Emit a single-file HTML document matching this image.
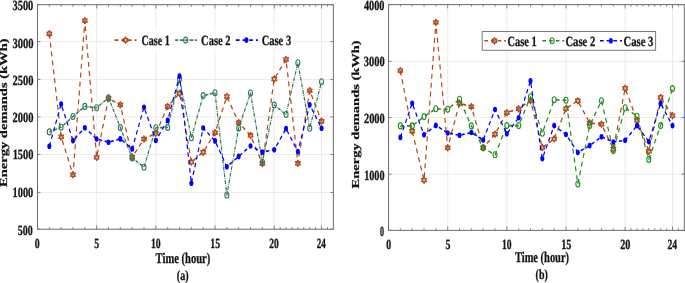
<!DOCTYPE html><html><head><meta charset="utf-8"><style>html,body{margin:0;padding:0;background:#fff;overflow:hidden}svg{display:block;will-change:transform}</style></head><body>
<svg width="685" height="283" viewBox="0 0 685 283" font-family='"Liberation Serif", serif' font-weight="bold" text-rendering="geometricPrecision">
<rect width="685" height="283" fill="#fff"/>
<line x1="96.66" y1="4.7" x2="96.66" y2="229.2" stroke="#ebebeb" stroke-width="1"/>
<line x1="155.84" y1="4.7" x2="155.84" y2="229.2" stroke="#ebebeb" stroke-width="1"/>
<line x1="215.02" y1="4.7" x2="215.02" y2="229.2" stroke="#ebebeb" stroke-width="1"/>
<line x1="274.20" y1="4.7" x2="274.20" y2="229.2" stroke="#ebebeb" stroke-width="1"/>
<line x1="321.54" y1="4.7" x2="321.54" y2="229.2" stroke="#ebebeb" stroke-width="1"/>
<line x1="37.48" y1="192.45" x2="333.38" y2="192.45" stroke="#ebebeb" stroke-width="1"/>
<line x1="37.48" y1="154.45" x2="333.38" y2="154.45" stroke="#ebebeb" stroke-width="1"/>
<line x1="37.48" y1="117.00" x2="333.38" y2="117.00" stroke="#ebebeb" stroke-width="1"/>
<line x1="37.48" y1="79.45" x2="333.38" y2="79.45" stroke="#ebebeb" stroke-width="1"/>
<line x1="37.48" y1="41.60" x2="333.38" y2="41.60" stroke="#ebebeb" stroke-width="1"/>
<path transform="scale(0.74,1)" d="M66.64,33.75 L82.64,136.80 L98.63,174.70 L114.63,20.60 L130.62,157.40 L146.62,98.50 L162.61,104.80 L178.61,157.00 L194.60,139.00 L210.59,133.40 L226.59,106.50 L242.58,93.30 L258.58,162.00 L274.57,152.30 L290.57,132.70 L306.56,96.50 L322.56,122.60 L338.55,135.40 L354.55,163.60 L370.54,79.00 L386.54,59.50 L402.53,163.30 L418.52,90.60 L434.52,121.20" fill="none" stroke="#b3481a" stroke-width="1.6" stroke-dasharray="5,4" stroke-linejoin="round"/>
<path d="M49.32,30.65 L48.53,32.20 L46.95,32.20 L47.74,33.75 L46.95,35.30 L48.53,35.30 L49.32,36.85 L50.10,35.30 L51.68,35.30 L50.89,33.75 L51.68,32.20 L50.10,32.20 Z" fill="#b3481a" fill-opacity="0.35" stroke="#b3481a" stroke-width="1.3" stroke-linejoin="round"/>
<path d="M61.15,133.70 L60.36,135.25 L58.79,135.25 L59.58,136.80 L58.79,138.35 L60.36,138.35 L61.15,139.90 L61.94,138.35 L63.51,138.35 L62.73,136.80 L63.51,135.25 L61.94,135.25 Z" fill="#b3481a" fill-opacity="0.35" stroke="#b3481a" stroke-width="1.3" stroke-linejoin="round"/>
<path d="M72.99,171.60 L72.20,173.15 L70.63,173.15 L71.41,174.70 L70.63,176.25 L72.20,176.25 L72.99,177.80 L73.78,176.25 L75.35,176.25 L74.56,174.70 L75.35,173.15 L73.78,173.15 Z" fill="#b3481a" fill-opacity="0.35" stroke="#b3481a" stroke-width="1.3" stroke-linejoin="round"/>
<path d="M84.82,17.50 L84.04,19.05 L82.46,19.05 L83.25,20.60 L82.46,22.15 L84.04,22.15 L84.82,23.70 L85.61,22.15 L87.19,22.15 L86.40,20.60 L87.19,19.05 L85.61,19.05 Z" fill="#b3481a" fill-opacity="0.35" stroke="#b3481a" stroke-width="1.3" stroke-linejoin="round"/>
<path d="M96.66,154.30 L95.87,155.85 L94.30,155.85 L95.08,157.40 L94.30,158.95 L95.87,158.95 L96.66,160.50 L97.45,158.95 L99.02,158.95 L98.24,157.40 L99.02,155.85 L97.45,155.85 Z" fill="#b3481a" fill-opacity="0.35" stroke="#b3481a" stroke-width="1.3" stroke-linejoin="round"/>
<path d="M108.50,95.40 L107.71,96.95 L106.13,96.95 L106.92,98.50 L106.13,100.05 L107.71,100.05 L108.50,101.60 L109.28,100.05 L110.86,100.05 L110.07,98.50 L110.86,96.95 L109.28,96.95 Z" fill="#b3481a" fill-opacity="0.35" stroke="#b3481a" stroke-width="1.3" stroke-linejoin="round"/>
<path d="M120.33,101.70 L119.54,103.25 L117.97,103.25 L118.76,104.80 L117.97,106.35 L119.54,106.35 L120.33,107.90 L121.12,106.35 L122.69,106.35 L121.91,104.80 L122.69,103.25 L121.12,103.25 Z" fill="#b3481a" fill-opacity="0.35" stroke="#b3481a" stroke-width="1.3" stroke-linejoin="round"/>
<path d="M132.17,153.90 L131.38,155.45 L129.81,155.45 L130.59,157.00 L129.81,158.55 L131.38,158.55 L132.17,160.10 L132.96,158.55 L134.53,158.55 L133.74,157.00 L134.53,155.45 L132.96,155.45 Z" fill="#b3481a" fill-opacity="0.35" stroke="#b3481a" stroke-width="1.3" stroke-linejoin="round"/>
<path d="M144.00,135.90 L143.22,137.45 L141.64,137.45 L142.43,139.00 L141.64,140.55 L143.22,140.55 L144.00,142.10 L144.79,140.55 L146.37,140.55 L145.58,139.00 L146.37,137.45 L144.79,137.45 Z" fill="#b3481a" fill-opacity="0.35" stroke="#b3481a" stroke-width="1.3" stroke-linejoin="round"/>
<path d="M155.84,130.30 L155.05,131.85 L153.48,131.85 L154.26,133.40 L153.48,134.95 L155.05,134.95 L155.84,136.50 L156.63,134.95 L158.20,134.95 L157.42,133.40 L158.20,131.85 L156.63,131.85 Z" fill="#b3481a" fill-opacity="0.35" stroke="#b3481a" stroke-width="1.3" stroke-linejoin="round"/>
<path d="M167.68,103.40 L166.89,104.95 L165.31,104.95 L166.10,106.50 L165.31,108.05 L166.89,108.05 L167.68,109.60 L168.46,108.05 L170.04,108.05 L169.25,106.50 L170.04,104.95 L168.46,104.95 Z" fill="#b3481a" fill-opacity="0.35" stroke="#b3481a" stroke-width="1.3" stroke-linejoin="round"/>
<path d="M179.51,90.20 L178.72,91.75 L177.15,91.75 L177.94,93.30 L177.15,94.85 L178.72,94.85 L179.51,96.40 L180.30,94.85 L181.87,94.85 L181.09,93.30 L181.87,91.75 L180.30,91.75 Z" fill="#b3481a" fill-opacity="0.35" stroke="#b3481a" stroke-width="1.3" stroke-linejoin="round"/>
<path d="M191.35,158.90 L190.56,160.45 L188.99,160.45 L189.77,162.00 L188.99,163.55 L190.56,163.55 L191.35,165.10 L192.14,163.55 L193.71,163.55 L192.92,162.00 L193.71,160.45 L192.14,160.45 Z" fill="#b3481a" fill-opacity="0.35" stroke="#b3481a" stroke-width="1.3" stroke-linejoin="round"/>
<path d="M203.18,149.20 L202.40,150.75 L200.82,150.75 L201.61,152.30 L200.82,153.85 L202.40,153.85 L203.18,155.40 L203.97,153.85 L205.55,153.85 L204.76,152.30 L205.55,150.75 L203.97,150.75 Z" fill="#b3481a" fill-opacity="0.35" stroke="#b3481a" stroke-width="1.3" stroke-linejoin="round"/>
<path d="M215.02,129.60 L214.23,131.15 L212.66,131.15 L213.44,132.70 L212.66,134.25 L214.23,134.25 L215.02,135.80 L215.81,134.25 L217.38,134.25 L216.60,132.70 L217.38,131.15 L215.81,131.15 Z" fill="#b3481a" fill-opacity="0.35" stroke="#b3481a" stroke-width="1.3" stroke-linejoin="round"/>
<path d="M226.86,93.40 L226.07,94.95 L224.49,94.95 L225.28,96.50 L224.49,98.05 L226.07,98.05 L226.86,99.60 L227.64,98.05 L229.22,98.05 L228.43,96.50 L229.22,94.95 L227.64,94.95 Z" fill="#b3481a" fill-opacity="0.35" stroke="#b3481a" stroke-width="1.3" stroke-linejoin="round"/>
<path d="M238.69,119.50 L237.90,121.05 L236.33,121.05 L237.12,122.60 L236.33,124.15 L237.90,124.15 L238.69,125.70 L239.48,124.15 L241.05,124.15 L240.27,122.60 L241.05,121.05 L239.48,121.05 Z" fill="#b3481a" fill-opacity="0.35" stroke="#b3481a" stroke-width="1.3" stroke-linejoin="round"/>
<path d="M250.53,132.30 L249.74,133.85 L248.17,133.85 L248.95,135.40 L248.17,136.95 L249.74,136.95 L250.53,138.50 L251.32,136.95 L252.89,136.95 L252.10,135.40 L252.89,133.85 L251.32,133.85 Z" fill="#b3481a" fill-opacity="0.35" stroke="#b3481a" stroke-width="1.3" stroke-linejoin="round"/>
<path d="M262.36,160.50 L261.58,162.05 L260.00,162.05 L260.79,163.60 L260.00,165.15 L261.58,165.15 L262.36,166.70 L263.15,165.15 L264.73,165.15 L263.94,163.60 L264.73,162.05 L263.15,162.05 Z" fill="#b3481a" fill-opacity="0.35" stroke="#b3481a" stroke-width="1.3" stroke-linejoin="round"/>
<path d="M274.20,75.90 L273.41,77.45 L271.84,77.45 L272.62,79.00 L271.84,80.55 L273.41,80.55 L274.20,82.10 L274.99,80.55 L276.56,80.55 L275.78,79.00 L276.56,77.45 L274.99,77.45 Z" fill="#b3481a" fill-opacity="0.35" stroke="#b3481a" stroke-width="1.3" stroke-linejoin="round"/>
<path d="M286.04,56.40 L285.25,57.95 L283.67,57.95 L284.46,59.50 L283.67,61.05 L285.25,61.05 L286.04,62.60 L286.82,61.05 L288.40,61.05 L287.61,59.50 L288.40,57.95 L286.82,57.95 Z" fill="#b3481a" fill-opacity="0.35" stroke="#b3481a" stroke-width="1.3" stroke-linejoin="round"/>
<path d="M297.87,160.20 L297.08,161.75 L295.51,161.75 L296.30,163.30 L295.51,164.85 L297.08,164.85 L297.87,166.40 L298.66,164.85 L300.23,164.85 L299.45,163.30 L300.23,161.75 L298.66,161.75 Z" fill="#b3481a" fill-opacity="0.35" stroke="#b3481a" stroke-width="1.3" stroke-linejoin="round"/>
<path d="M309.71,87.50 L308.92,89.05 L307.35,89.05 L308.13,90.60 L307.35,92.15 L308.92,92.15 L309.71,93.70 L310.50,92.15 L312.07,92.15 L311.28,90.60 L312.07,89.05 L310.50,89.05 Z" fill="#b3481a" fill-opacity="0.35" stroke="#b3481a" stroke-width="1.3" stroke-linejoin="round"/>
<path d="M321.54,118.10 L320.76,119.65 L319.18,119.65 L319.97,121.20 L319.18,122.75 L320.76,122.75 L321.54,124.30 L322.33,122.75 L323.91,122.75 L323.12,121.20 L323.91,119.65 L322.33,119.65 Z" fill="#b3481a" fill-opacity="0.35" stroke="#b3481a" stroke-width="1.3" stroke-linejoin="round"/>
<path transform="scale(0.74,1)" d="M66.64,131.90 L82.64,127.30 L98.63,116.50 L114.63,106.40 L130.62,107.70 L146.62,97.80 L162.61,127.60 L178.61,158.00 L194.60,167.20 L210.59,127.80 L226.59,127.40 L242.58,79.00 L258.58,137.70 L274.57,95.60 L290.57,92.70 L306.56,195.00 L322.56,127.90 L338.55,93.00 L354.55,162.00 L370.54,105.10 L386.54,114.50 L402.53,62.70 L418.52,128.30 L434.52,81.80" fill="none" stroke="#2f7a58" stroke-width="1.6" stroke-dasharray="3.8,1.1,0.8,1.1" stroke-linejoin="round"/>
<ellipse cx="49.32" cy="131.90" rx="2.0" ry="3.0" fill="none" stroke="#2f7a58" stroke-width="1.1"/>
<ellipse cx="61.15" cy="127.30" rx="2.0" ry="3.0" fill="none" stroke="#2f7a58" stroke-width="1.1"/>
<ellipse cx="72.99" cy="116.50" rx="2.0" ry="3.0" fill="none" stroke="#2f7a58" stroke-width="1.1"/>
<ellipse cx="84.82" cy="106.40" rx="2.0" ry="3.0" fill="none" stroke="#2f7a58" stroke-width="1.1"/>
<ellipse cx="96.66" cy="107.70" rx="2.0" ry="3.0" fill="none" stroke="#2f7a58" stroke-width="1.1"/>
<ellipse cx="108.50" cy="97.80" rx="2.0" ry="3.0" fill="none" stroke="#2f7a58" stroke-width="1.1"/>
<ellipse cx="120.33" cy="127.60" rx="2.0" ry="3.0" fill="none" stroke="#2f7a58" stroke-width="1.1"/>
<ellipse cx="132.17" cy="158.00" rx="2.0" ry="3.0" fill="none" stroke="#2f7a58" stroke-width="1.1"/>
<ellipse cx="144.00" cy="167.20" rx="2.0" ry="3.0" fill="none" stroke="#2f7a58" stroke-width="1.1"/>
<ellipse cx="155.84" cy="127.80" rx="2.0" ry="3.0" fill="none" stroke="#2f7a58" stroke-width="1.1"/>
<ellipse cx="167.68" cy="127.40" rx="2.0" ry="3.0" fill="none" stroke="#2f7a58" stroke-width="1.1"/>
<ellipse cx="179.51" cy="79.00" rx="2.0" ry="3.0" fill="none" stroke="#2f7a58" stroke-width="1.1"/>
<ellipse cx="191.35" cy="137.70" rx="2.0" ry="3.0" fill="none" stroke="#2f7a58" stroke-width="1.1"/>
<ellipse cx="203.18" cy="95.60" rx="2.0" ry="3.0" fill="none" stroke="#2f7a58" stroke-width="1.1"/>
<ellipse cx="215.02" cy="92.70" rx="2.0" ry="3.0" fill="none" stroke="#2f7a58" stroke-width="1.1"/>
<ellipse cx="226.86" cy="195.00" rx="2.0" ry="3.0" fill="none" stroke="#2f7a58" stroke-width="1.1"/>
<ellipse cx="238.69" cy="127.90" rx="2.0" ry="3.0" fill="none" stroke="#2f7a58" stroke-width="1.1"/>
<ellipse cx="250.53" cy="93.00" rx="2.0" ry="3.0" fill="none" stroke="#2f7a58" stroke-width="1.1"/>
<ellipse cx="262.36" cy="162.00" rx="2.0" ry="3.0" fill="none" stroke="#2f7a58" stroke-width="1.1"/>
<ellipse cx="274.20" cy="105.10" rx="2.0" ry="3.0" fill="none" stroke="#2f7a58" stroke-width="1.1"/>
<ellipse cx="286.04" cy="114.50" rx="2.0" ry="3.0" fill="none" stroke="#2f7a58" stroke-width="1.1"/>
<ellipse cx="297.87" cy="62.70" rx="2.0" ry="3.0" fill="none" stroke="#2f7a58" stroke-width="1.1"/>
<ellipse cx="309.71" cy="128.30" rx="2.0" ry="3.0" fill="none" stroke="#2f7a58" stroke-width="1.1"/>
<ellipse cx="321.54" cy="81.80" rx="2.0" ry="3.0" fill="none" stroke="#2f7a58" stroke-width="1.1"/>
<path transform="scale(0.74,1)" d="M66.64,146.30 L82.64,104.10 L98.63,140.60 L114.63,127.80 L130.62,139.00 L146.62,142.20 L162.61,138.90 L178.61,148.90 L194.60,107.20 L210.59,140.50 L226.59,120.30 L242.58,76.10 L258.58,183.30 L274.57,128.00 L290.57,140.90 L306.56,166.80 L322.56,156.40 L338.55,146.00 L354.55,152.10 L370.54,149.80 L386.54,128.60 L402.53,151.60 L418.52,104.80 L434.52,128.30" fill="none" stroke="#0000ff" stroke-width="1.6" stroke-dasharray="4.5,3.5" stroke-linejoin="round"/>
<ellipse cx="49.32" cy="146.30" rx="2.0" ry="2.8" fill="#0000ff"/>
<ellipse cx="61.15" cy="104.10" rx="2.0" ry="2.8" fill="#0000ff"/>
<ellipse cx="72.99" cy="140.60" rx="2.0" ry="2.8" fill="#0000ff"/>
<ellipse cx="84.82" cy="127.80" rx="2.0" ry="2.8" fill="#0000ff"/>
<ellipse cx="96.66" cy="139.00" rx="2.0" ry="2.8" fill="#0000ff"/>
<ellipse cx="108.50" cy="142.20" rx="2.0" ry="2.8" fill="#0000ff"/>
<ellipse cx="120.33" cy="138.90" rx="2.0" ry="2.8" fill="#0000ff"/>
<ellipse cx="132.17" cy="148.90" rx="2.0" ry="2.8" fill="#0000ff"/>
<ellipse cx="144.00" cy="107.20" rx="2.0" ry="2.8" fill="#0000ff"/>
<ellipse cx="155.84" cy="140.50" rx="2.0" ry="2.8" fill="#0000ff"/>
<ellipse cx="167.68" cy="120.30" rx="2.0" ry="2.8" fill="#0000ff"/>
<ellipse cx="179.51" cy="76.10" rx="2.0" ry="2.8" fill="#0000ff"/>
<ellipse cx="191.35" cy="183.30" rx="2.0" ry="2.8" fill="#0000ff"/>
<ellipse cx="203.18" cy="128.00" rx="2.0" ry="2.8" fill="#0000ff"/>
<ellipse cx="215.02" cy="140.90" rx="2.0" ry="2.8" fill="#0000ff"/>
<ellipse cx="226.86" cy="166.80" rx="2.0" ry="2.8" fill="#0000ff"/>
<ellipse cx="238.69" cy="156.40" rx="2.0" ry="2.8" fill="#0000ff"/>
<ellipse cx="250.53" cy="146.00" rx="2.0" ry="2.8" fill="#0000ff"/>
<ellipse cx="262.36" cy="152.10" rx="2.0" ry="2.8" fill="#0000ff"/>
<ellipse cx="274.20" cy="149.80" rx="2.0" ry="2.8" fill="#0000ff"/>
<ellipse cx="286.04" cy="128.60" rx="2.0" ry="2.8" fill="#0000ff"/>
<ellipse cx="297.87" cy="151.60" rx="2.0" ry="2.8" fill="#0000ff"/>
<ellipse cx="309.71" cy="104.80" rx="2.0" ry="2.8" fill="#0000ff"/>
<ellipse cx="321.54" cy="128.30" rx="2.0" ry="2.8" fill="#0000ff"/>
<rect x="112.5" y="30.5" width="181.5" height="19" fill="#fff"/>
<path transform="scale(0.74,1)" d="M154.86,40.10 L184.46,40.10" fill="none" stroke="#b3481a" stroke-width="1.6" stroke-dasharray="5,4" stroke-linejoin="round"/>
<path d="M125.50,37.00 L124.71,38.55 L123.14,38.55 L123.92,40.10 L123.14,41.65 L124.71,41.65 L125.50,43.20 L126.29,41.65 L127.86,41.65 L127.08,40.10 L127.86,38.55 L126.29,38.55 Z" fill="#b3481a" fill-opacity="0.35" stroke="#b3481a" stroke-width="1.3" stroke-linejoin="round"/>
<path transform="scale(0.74,1)" d="M236.62,40.10 L266.22,40.10" fill="none" stroke="#2f7a58" stroke-width="1.6" stroke-dasharray="3.8,1.1,0.8,1.1" stroke-linejoin="round"/>
<ellipse cx="185.60" cy="40.10" rx="2.0" ry="3.0" fill="none" stroke="#2f7a58" stroke-width="1.1"/>
<path transform="scale(0.74,1)" d="M318.78,40.10 L348.38,40.10" fill="none" stroke="#0000ff" stroke-width="1.6" stroke-dasharray="5,4" stroke-linejoin="round"/>
<ellipse cx="246.40" cy="40.10" rx="2.0" ry="2.8" fill="#0000ff"/>
<path d="M49.32,229.2 v-2.1 M49.32,4.7 v2.1 M61.15,229.2 v-2.1 M61.15,4.7 v2.1 M72.99,229.2 v-2.1 M72.99,4.7 v2.1 M84.82,229.2 v-2.1 M84.82,4.7 v2.1 M96.66,229.2 v-3.8 M96.66,4.7 v3.8 M108.50,229.2 v-2.1 M108.50,4.7 v2.1 M120.33,229.2 v-2.1 M120.33,4.7 v2.1 M132.17,229.2 v-2.1 M132.17,4.7 v2.1 M144.00,229.2 v-2.1 M144.00,4.7 v2.1 M155.84,229.2 v-3.8 M155.84,4.7 v3.8 M167.68,229.2 v-2.1 M167.68,4.7 v2.1 M179.51,229.2 v-2.1 M179.51,4.7 v2.1 M191.35,229.2 v-2.1 M191.35,4.7 v2.1 M203.18,229.2 v-2.1 M203.18,4.7 v2.1 M215.02,229.2 v-3.8 M215.02,4.7 v3.8 M226.86,229.2 v-2.1 M226.86,4.7 v2.1 M238.69,229.2 v-2.1 M238.69,4.7 v2.1 M250.53,229.2 v-2.1 M250.53,4.7 v2.1 M262.36,229.2 v-2.1 M262.36,4.7 v2.1 M274.20,229.2 v-3.8 M274.20,4.7 v3.8 M280.12,229.2 v-2.1 M280.12,4.7 v2.1 M286.04,229.2 v-2.1 M286.04,4.7 v2.1 M291.95,229.2 v-2.1 M291.95,4.7 v2.1 M297.87,229.2 v-2.1 M297.87,4.7 v2.1 M303.79,229.2 v-2.1 M303.79,4.7 v2.1 M309.71,229.2 v-2.1 M309.71,4.7 v2.1 M315.63,229.2 v-2.1 M315.63,4.7 v2.1 M321.54,229.2 v-3.8 M321.54,4.7 v3.8 M327.46,229.2 v-2.1 M327.46,4.7 v2.1 M37.48,229.20 h3 M333.38,229.20 h-3 M37.48,192.45 h3 M333.38,192.45 h-3 M37.48,154.45 h3 M333.38,154.45 h-3 M37.48,117.00 h3 M333.38,117.00 h-3 M37.48,79.45 h3 M333.38,79.45 h-3 M37.48,41.60 h3 M333.38,41.60 h-3 M37.48,4.70 h3 M333.38,4.70 h-3" stroke="#6a6a6a" stroke-width="0.8" fill="none"/>
<rect x="37.48" y="4.7" width="295.90" height="224.50" fill="none" stroke="#6a6a6a" stroke-width="1"/>
<line x1="447.69" y1="4.6" x2="447.69" y2="230.35" stroke="#ebebeb" stroke-width="1"/>
<line x1="506.84" y1="4.6" x2="506.84" y2="230.35" stroke="#ebebeb" stroke-width="1"/>
<line x1="566.00" y1="4.6" x2="566.00" y2="230.35" stroke="#ebebeb" stroke-width="1"/>
<line x1="625.15" y1="4.6" x2="625.15" y2="230.35" stroke="#ebebeb" stroke-width="1"/>
<line x1="672.47" y1="4.6" x2="672.47" y2="230.35" stroke="#ebebeb" stroke-width="1"/>
<line x1="388.54" y1="174.13" x2="684.3" y2="174.13" stroke="#ebebeb" stroke-width="1"/>
<line x1="388.54" y1="117.48" x2="684.3" y2="117.48" stroke="#ebebeb" stroke-width="1"/>
<line x1="388.54" y1="61.35" x2="684.3" y2="61.35" stroke="#ebebeb" stroke-width="1"/>
<path transform="scale(0.74,1)" d="M541.04,70.60 L557.03,131.20 L573.02,180.10 L589.00,22.40 L604.99,147.70 L620.98,103.30 L636.96,106.70 L652.95,147.70 L668.94,134.20 L684.92,112.70 L700.91,108.80 L716.90,100.60 L732.89,147.50 L748.87,138.90 L764.86,108.60 L780.85,100.80 L796.83,123.00 L812.82,124.20 L828.81,149.00 L844.79,88.30 L860.78,120.30 L876.77,151.30 L892.76,97.50 L908.74,115.60" fill="none" stroke="#b3481a" stroke-width="1.6" stroke-dasharray="5,4" stroke-linejoin="round"/>
<path d="M400.37,67.50 L399.58,69.05 L398.01,69.05 L398.80,70.60 L398.01,72.15 L399.58,72.15 L400.37,73.70 L401.16,72.15 L402.73,72.15 L401.95,70.60 L402.73,69.05 L401.16,69.05 Z" fill="#b3481a" fill-opacity="0.35" stroke="#b3481a" stroke-width="1.3" stroke-linejoin="round"/>
<path d="M412.20,128.10 L411.41,129.65 L409.84,129.65 L410.63,131.20 L409.84,132.75 L411.41,132.75 L412.20,134.30 L412.99,132.75 L414.56,132.75 L413.78,131.20 L414.56,129.65 L412.99,129.65 Z" fill="#b3481a" fill-opacity="0.35" stroke="#b3481a" stroke-width="1.3" stroke-linejoin="round"/>
<path d="M424.03,177.00 L423.24,178.55 L421.67,178.55 L422.46,180.10 L421.67,181.65 L423.24,181.65 L424.03,183.20 L424.82,181.65 L426.39,181.65 L425.61,180.10 L426.39,178.55 L424.82,178.55 Z" fill="#b3481a" fill-opacity="0.35" stroke="#b3481a" stroke-width="1.3" stroke-linejoin="round"/>
<path d="M435.86,19.30 L435.07,20.85 L433.50,20.85 L434.29,22.40 L433.50,23.95 L435.07,23.95 L435.86,25.50 L436.65,23.95 L438.22,23.95 L437.44,22.40 L438.22,20.85 L436.65,20.85 Z" fill="#b3481a" fill-opacity="0.35" stroke="#b3481a" stroke-width="1.3" stroke-linejoin="round"/>
<path d="M447.69,144.60 L446.90,146.15 L445.33,146.15 L446.12,147.70 L445.33,149.25 L446.90,149.25 L447.69,150.80 L448.48,149.25 L450.05,149.25 L449.27,147.70 L450.05,146.15 L448.48,146.15 Z" fill="#b3481a" fill-opacity="0.35" stroke="#b3481a" stroke-width="1.3" stroke-linejoin="round"/>
<path d="M459.52,100.20 L458.73,101.75 L457.16,101.75 L457.95,103.30 L457.16,104.85 L458.73,104.85 L459.52,106.40 L460.31,104.85 L461.88,104.85 L461.10,103.30 L461.88,101.75 L460.31,101.75 Z" fill="#b3481a" fill-opacity="0.35" stroke="#b3481a" stroke-width="1.3" stroke-linejoin="round"/>
<path d="M471.35,103.60 L470.57,105.15 L468.99,105.15 L469.78,106.70 L468.99,108.25 L470.57,108.25 L471.35,109.80 L472.14,108.25 L473.72,108.25 L472.93,106.70 L473.72,105.15 L472.14,105.15 Z" fill="#b3481a" fill-opacity="0.35" stroke="#b3481a" stroke-width="1.3" stroke-linejoin="round"/>
<path d="M483.18,144.60 L482.40,146.15 L480.82,146.15 L481.61,147.70 L480.82,149.25 L482.40,149.25 L483.18,150.80 L483.97,149.25 L485.55,149.25 L484.76,147.70 L485.55,146.15 L483.97,146.15 Z" fill="#b3481a" fill-opacity="0.35" stroke="#b3481a" stroke-width="1.3" stroke-linejoin="round"/>
<path d="M495.01,131.10 L494.23,132.65 L492.65,132.65 L493.44,134.20 L492.65,135.75 L494.23,135.75 L495.01,137.30 L495.80,135.75 L497.38,135.75 L496.59,134.20 L497.38,132.65 L495.80,132.65 Z" fill="#b3481a" fill-opacity="0.35" stroke="#b3481a" stroke-width="1.3" stroke-linejoin="round"/>
<path d="M506.84,109.60 L506.06,111.15 L504.48,111.15 L505.27,112.70 L504.48,114.25 L506.06,114.25 L506.84,115.80 L507.63,114.25 L509.21,114.25 L508.42,112.70 L509.21,111.15 L507.63,111.15 Z" fill="#b3481a" fill-opacity="0.35" stroke="#b3481a" stroke-width="1.3" stroke-linejoin="round"/>
<path d="M518.67,105.70 L517.89,107.25 L516.31,107.25 L517.10,108.80 L516.31,110.35 L517.89,110.35 L518.67,111.90 L519.46,110.35 L521.04,110.35 L520.25,108.80 L521.04,107.25 L519.46,107.25 Z" fill="#b3481a" fill-opacity="0.35" stroke="#b3481a" stroke-width="1.3" stroke-linejoin="round"/>
<path d="M530.50,97.50 L529.72,99.05 L528.14,99.05 L528.93,100.60 L528.14,102.15 L529.72,102.15 L530.50,103.70 L531.29,102.15 L532.87,102.15 L532.08,100.60 L532.87,99.05 L531.29,99.05 Z" fill="#b3481a" fill-opacity="0.35" stroke="#b3481a" stroke-width="1.3" stroke-linejoin="round"/>
<path d="M542.34,144.40 L541.55,145.95 L539.97,145.95 L540.76,147.50 L539.97,149.05 L541.55,149.05 L542.34,150.60 L543.12,149.05 L544.70,149.05 L543.91,147.50 L544.70,145.95 L543.12,145.95 Z" fill="#b3481a" fill-opacity="0.35" stroke="#b3481a" stroke-width="1.3" stroke-linejoin="round"/>
<path d="M554.17,135.80 L553.38,137.35 L551.80,137.35 L552.59,138.90 L551.80,140.45 L553.38,140.45 L554.17,142.00 L554.95,140.45 L556.53,140.45 L555.74,138.90 L556.53,137.35 L554.95,137.35 Z" fill="#b3481a" fill-opacity="0.35" stroke="#b3481a" stroke-width="1.3" stroke-linejoin="round"/>
<path d="M566.00,105.50 L565.21,107.05 L563.63,107.05 L564.42,108.60 L563.63,110.15 L565.21,110.15 L566.00,111.70 L566.78,110.15 L568.36,110.15 L567.57,108.60 L568.36,107.05 L566.78,107.05 Z" fill="#b3481a" fill-opacity="0.35" stroke="#b3481a" stroke-width="1.3" stroke-linejoin="round"/>
<path d="M577.83,97.70 L577.04,99.25 L575.46,99.25 L576.25,100.80 L575.46,102.35 L577.04,102.35 L577.83,103.90 L578.61,102.35 L580.19,102.35 L579.40,100.80 L580.19,99.25 L578.61,99.25 Z" fill="#b3481a" fill-opacity="0.35" stroke="#b3481a" stroke-width="1.3" stroke-linejoin="round"/>
<path d="M589.66,119.90 L588.87,121.45 L587.29,121.45 L588.08,123.00 L587.29,124.55 L588.87,124.55 L589.66,126.10 L590.44,124.55 L592.02,124.55 L591.23,123.00 L592.02,121.45 L590.44,121.45 Z" fill="#b3481a" fill-opacity="0.35" stroke="#b3481a" stroke-width="1.3" stroke-linejoin="round"/>
<path d="M601.49,121.10 L600.70,122.65 L599.12,122.65 L599.91,124.20 L599.12,125.75 L600.70,125.75 L601.49,127.30 L602.27,125.75 L603.85,125.75 L603.06,124.20 L603.85,122.65 L602.27,122.65 Z" fill="#b3481a" fill-opacity="0.35" stroke="#b3481a" stroke-width="1.3" stroke-linejoin="round"/>
<path d="M613.32,145.90 L612.53,147.45 L610.96,147.45 L611.74,149.00 L610.96,150.55 L612.53,150.55 L613.32,152.10 L614.11,150.55 L615.68,150.55 L614.89,149.00 L615.68,147.45 L614.11,147.45 Z" fill="#b3481a" fill-opacity="0.35" stroke="#b3481a" stroke-width="1.3" stroke-linejoin="round"/>
<path d="M625.15,85.20 L624.36,86.75 L622.79,86.75 L623.57,88.30 L622.79,89.85 L624.36,89.85 L625.15,91.40 L625.94,89.85 L627.51,89.85 L626.72,88.30 L627.51,86.75 L625.94,86.75 Z" fill="#b3481a" fill-opacity="0.35" stroke="#b3481a" stroke-width="1.3" stroke-linejoin="round"/>
<path d="M636.98,117.20 L636.19,118.75 L634.62,118.75 L635.40,120.30 L634.62,121.85 L636.19,121.85 L636.98,123.40 L637.77,121.85 L639.34,121.85 L638.55,120.30 L639.34,118.75 L637.77,118.75 Z" fill="#b3481a" fill-opacity="0.35" stroke="#b3481a" stroke-width="1.3" stroke-linejoin="round"/>
<path d="M648.81,148.20 L648.02,149.75 L646.45,149.75 L647.23,151.30 L646.45,152.85 L648.02,152.85 L648.81,154.40 L649.60,152.85 L651.17,152.85 L650.38,151.30 L651.17,149.75 L649.60,149.75 Z" fill="#b3481a" fill-opacity="0.35" stroke="#b3481a" stroke-width="1.3" stroke-linejoin="round"/>
<path d="M660.64,94.40 L659.85,95.95 L658.28,95.95 L659.06,97.50 L658.28,99.05 L659.85,99.05 L660.64,100.60 L661.43,99.05 L663.00,99.05 L662.21,97.50 L663.00,95.95 L661.43,95.95 Z" fill="#b3481a" fill-opacity="0.35" stroke="#b3481a" stroke-width="1.3" stroke-linejoin="round"/>
<path d="M672.47,112.50 L671.68,114.05 L670.11,114.05 L670.89,115.60 L670.11,117.15 L671.68,117.15 L672.47,118.70 L673.26,117.15 L674.83,117.15 L674.04,115.60 L674.83,114.05 L673.26,114.05 Z" fill="#b3481a" fill-opacity="0.35" stroke="#b3481a" stroke-width="1.3" stroke-linejoin="round"/>
<path transform="scale(0.74,1)" d="M541.04,125.90 L557.03,125.90 L573.02,116.60 L589.00,108.80 L604.99,109.30 L620.98,99.30 L636.96,125.90 L652.95,147.70 L668.94,154.80 L684.92,125.60 L700.91,125.60 L716.90,96.80 L732.89,133.20 L748.87,99.80 L764.86,100.30 L780.85,184.00 L796.83,125.60 L812.82,100.80 L828.81,150.60 L844.79,107.70 L860.78,116.30 L876.77,159.40 L892.76,125.60 L908.74,88.60" fill="none" stroke="#1f8f1f" stroke-width="1.6" stroke-dasharray="5,4" stroke-linejoin="round"/>
<ellipse cx="400.37" cy="125.90" rx="2.0" ry="3.0" fill="none" stroke="#1f8f1f" stroke-width="1.1"/>
<ellipse cx="412.20" cy="125.90" rx="2.0" ry="3.0" fill="none" stroke="#1f8f1f" stroke-width="1.1"/>
<ellipse cx="424.03" cy="116.60" rx="2.0" ry="3.0" fill="none" stroke="#1f8f1f" stroke-width="1.1"/>
<ellipse cx="435.86" cy="108.80" rx="2.0" ry="3.0" fill="none" stroke="#1f8f1f" stroke-width="1.1"/>
<ellipse cx="447.69" cy="109.30" rx="2.0" ry="3.0" fill="none" stroke="#1f8f1f" stroke-width="1.1"/>
<ellipse cx="459.52" cy="99.30" rx="2.0" ry="3.0" fill="none" stroke="#1f8f1f" stroke-width="1.1"/>
<ellipse cx="471.35" cy="125.90" rx="2.0" ry="3.0" fill="none" stroke="#1f8f1f" stroke-width="1.1"/>
<ellipse cx="483.18" cy="147.70" rx="2.0" ry="3.0" fill="none" stroke="#1f8f1f" stroke-width="1.1"/>
<ellipse cx="495.01" cy="154.80" rx="2.0" ry="3.0" fill="none" stroke="#1f8f1f" stroke-width="1.1"/>
<ellipse cx="506.84" cy="125.60" rx="2.0" ry="3.0" fill="none" stroke="#1f8f1f" stroke-width="1.1"/>
<ellipse cx="518.67" cy="125.60" rx="2.0" ry="3.0" fill="none" stroke="#1f8f1f" stroke-width="1.1"/>
<ellipse cx="530.50" cy="96.80" rx="2.0" ry="3.0" fill="none" stroke="#1f8f1f" stroke-width="1.1"/>
<ellipse cx="542.34" cy="133.20" rx="2.0" ry="3.0" fill="none" stroke="#1f8f1f" stroke-width="1.1"/>
<ellipse cx="554.17" cy="99.80" rx="2.0" ry="3.0" fill="none" stroke="#1f8f1f" stroke-width="1.1"/>
<ellipse cx="566.00" cy="100.30" rx="2.0" ry="3.0" fill="none" stroke="#1f8f1f" stroke-width="1.1"/>
<ellipse cx="577.83" cy="184.00" rx="2.0" ry="3.0" fill="none" stroke="#1f8f1f" stroke-width="1.1"/>
<ellipse cx="589.66" cy="125.60" rx="2.0" ry="3.0" fill="none" stroke="#1f8f1f" stroke-width="1.1"/>
<ellipse cx="601.49" cy="100.80" rx="2.0" ry="3.0" fill="none" stroke="#1f8f1f" stroke-width="1.1"/>
<ellipse cx="613.32" cy="150.60" rx="2.0" ry="3.0" fill="none" stroke="#1f8f1f" stroke-width="1.1"/>
<ellipse cx="625.15" cy="107.70" rx="2.0" ry="3.0" fill="none" stroke="#1f8f1f" stroke-width="1.1"/>
<ellipse cx="636.98" cy="116.30" rx="2.0" ry="3.0" fill="none" stroke="#1f8f1f" stroke-width="1.1"/>
<ellipse cx="648.81" cy="159.40" rx="2.0" ry="3.0" fill="none" stroke="#1f8f1f" stroke-width="1.1"/>
<ellipse cx="660.64" cy="125.60" rx="2.0" ry="3.0" fill="none" stroke="#1f8f1f" stroke-width="1.1"/>
<ellipse cx="672.47" cy="88.60" rx="2.0" ry="3.0" fill="none" stroke="#1f8f1f" stroke-width="1.1"/>
<path transform="scale(0.74,1)" d="M541.04,137.40 L557.03,103.30 L573.02,134.80 L589.00,125.40 L604.99,133.00 L620.98,135.30 L636.96,132.50 L652.95,140.00 L668.94,109.50 L684.92,133.70 L700.91,117.70 L716.90,80.90 L732.89,158.60 L748.87,125.60 L764.86,134.50 L780.85,152.50 L796.83,145.60 L812.82,136.80 L828.81,142.00 L844.79,140.30 L860.78,125.60 L876.77,141.60 L892.76,103.40 L908.74,125.60" fill="none" stroke="#0000ff" stroke-width="1.6" stroke-dasharray="4.5,3.5" stroke-linejoin="round"/>
<ellipse cx="400.37" cy="137.40" rx="2.0" ry="2.8" fill="#0000ff"/>
<ellipse cx="412.20" cy="103.30" rx="2.0" ry="2.8" fill="#0000ff"/>
<ellipse cx="424.03" cy="134.80" rx="2.0" ry="2.8" fill="#0000ff"/>
<ellipse cx="435.86" cy="125.40" rx="2.0" ry="2.8" fill="#0000ff"/>
<ellipse cx="447.69" cy="133.00" rx="2.0" ry="2.8" fill="#0000ff"/>
<ellipse cx="459.52" cy="135.30" rx="2.0" ry="2.8" fill="#0000ff"/>
<ellipse cx="471.35" cy="132.50" rx="2.0" ry="2.8" fill="#0000ff"/>
<ellipse cx="483.18" cy="140.00" rx="2.0" ry="2.8" fill="#0000ff"/>
<ellipse cx="495.01" cy="109.50" rx="2.0" ry="2.8" fill="#0000ff"/>
<ellipse cx="506.84" cy="133.70" rx="2.0" ry="2.8" fill="#0000ff"/>
<ellipse cx="518.67" cy="117.70" rx="2.0" ry="2.8" fill="#0000ff"/>
<ellipse cx="530.50" cy="80.90" rx="2.0" ry="2.8" fill="#0000ff"/>
<ellipse cx="542.34" cy="158.60" rx="2.0" ry="2.8" fill="#0000ff"/>
<ellipse cx="554.17" cy="125.60" rx="2.0" ry="2.8" fill="#0000ff"/>
<ellipse cx="566.00" cy="134.50" rx="2.0" ry="2.8" fill="#0000ff"/>
<ellipse cx="577.83" cy="152.50" rx="2.0" ry="2.8" fill="#0000ff"/>
<ellipse cx="589.66" cy="145.60" rx="2.0" ry="2.8" fill="#0000ff"/>
<ellipse cx="601.49" cy="136.80" rx="2.0" ry="2.8" fill="#0000ff"/>
<ellipse cx="613.32" cy="142.00" rx="2.0" ry="2.8" fill="#0000ff"/>
<ellipse cx="625.15" cy="140.30" rx="2.0" ry="2.8" fill="#0000ff"/>
<ellipse cx="636.98" cy="125.60" rx="2.0" ry="2.8" fill="#0000ff"/>
<ellipse cx="648.81" cy="141.60" rx="2.0" ry="2.8" fill="#0000ff"/>
<ellipse cx="660.64" cy="103.40" rx="2.0" ry="2.8" fill="#0000ff"/>
<ellipse cx="672.47" cy="125.60" rx="2.0" ry="2.8" fill="#0000ff"/>
<rect x="482.2" y="31.5" width="173.4" height="18.8" fill="#fff" stroke="#7a7a7a" stroke-width="1"/>
<path transform="scale(0.74,1)" d="M654.46,40.80 L683.78,40.80" fill="none" stroke="#b3481a" stroke-width="1.6" stroke-dasharray="5,4" stroke-linejoin="round"/>
<path d="M494.50,37.70 L493.71,39.25 L492.14,39.25 L492.92,40.80 L492.14,42.35 L493.71,42.35 L494.50,43.90 L495.29,42.35 L496.86,42.35 L496.08,40.80 L496.86,39.25 L495.29,39.25 Z" fill="#b3481a" fill-opacity="0.35" stroke="#b3481a" stroke-width="1.3" stroke-linejoin="round"/>
<path transform="scale(0.74,1)" d="M732.97,40.80 L762.57,40.80" fill="none" stroke="#1f8f1f" stroke-width="1.6" stroke-dasharray="5,4" stroke-linejoin="round"/>
<ellipse cx="552.10" cy="40.80" rx="2.0" ry="3.0" fill="none" stroke="#1f8f1f" stroke-width="1.1"/>
<path transform="scale(0.74,1)" d="M810.81,40.80 L840.54,40.80" fill="none" stroke="#0000ff" stroke-width="1.6" stroke-dasharray="5,4" stroke-linejoin="round"/>
<ellipse cx="610.90" cy="40.80" rx="2.0" ry="2.8" fill="#0000ff"/>
<path d="M400.37,230.35 v-2.1 M400.37,4.6 v2.1 M412.20,230.35 v-2.1 M412.20,4.6 v2.1 M424.03,230.35 v-2.1 M424.03,4.6 v2.1 M435.86,230.35 v-2.1 M435.86,4.6 v2.1 M447.69,230.35 v-3.8 M447.69,4.6 v3.8 M459.52,230.35 v-2.1 M459.52,4.6 v2.1 M471.35,230.35 v-2.1 M471.35,4.6 v2.1 M483.18,230.35 v-2.1 M483.18,4.6 v2.1 M495.01,230.35 v-2.1 M495.01,4.6 v2.1 M506.84,230.35 v-3.8 M506.84,4.6 v3.8 M518.67,230.35 v-2.1 M518.67,4.6 v2.1 M530.50,230.35 v-2.1 M530.50,4.6 v2.1 M542.34,230.35 v-2.1 M542.34,4.6 v2.1 M554.17,230.35 v-2.1 M554.17,4.6 v2.1 M566.00,230.35 v-3.8 M566.00,4.6 v3.8 M577.83,230.35 v-2.1 M577.83,4.6 v2.1 M589.66,230.35 v-2.1 M589.66,4.6 v2.1 M601.49,230.35 v-2.1 M601.49,4.6 v2.1 M613.32,230.35 v-2.1 M613.32,4.6 v2.1 M625.15,230.35 v-3.8 M625.15,4.6 v3.8 M631.06,230.35 v-2.1 M631.06,4.6 v2.1 M636.98,230.35 v-2.1 M636.98,4.6 v2.1 M642.89,230.35 v-2.1 M642.89,4.6 v2.1 M648.81,230.35 v-2.1 M648.81,4.6 v2.1 M654.72,230.35 v-2.1 M654.72,4.6 v2.1 M660.64,230.35 v-2.1 M660.64,4.6 v2.1 M666.55,230.35 v-2.1 M666.55,4.6 v2.1 M672.47,230.35 v-3.8 M672.47,4.6 v3.8 M678.38,230.35 v-2.1 M678.38,4.6 v2.1 M388.54,230.35 h3 M684.3,230.35 h-3 M388.54,174.13 h3 M684.3,174.13 h-3 M388.54,117.48 h3 M684.3,117.48 h-3 M388.54,61.35 h3 M684.3,61.35 h-3 M388.54,4.60 h3 M684.3,4.60 h-3" stroke="#6a6a6a" stroke-width="0.8" fill="none"/>
<rect x="388.54" y="4.6" width="295.76" height="225.75" fill="none" stroke="#6a6a6a" stroke-width="1"/>
<text id="t_ly3500" transform="translate(12.47,10.14) scale(0.7448,1)" font-size="14.00" fill="#141414" stroke="#141414" stroke-width="0.3">3500</text>
<text id="t_ly3000" transform="translate(12.53,47.65) scale(0.7541,1)" font-size="14.00" fill="#141414" stroke="#141414" stroke-width="0.3">3000</text>
<text id="t_ly2500" transform="translate(12.54,84.94) scale(0.7509,1)" font-size="14.00" fill="#141414" stroke="#141414" stroke-width="0.3">2500</text>
<text id="t_ly2000" transform="translate(12.54,122.08) scale(0.7509,1)" font-size="14.00" fill="#141414" stroke="#141414" stroke-width="0.3">2000</text>
<text id="t_ly1500" transform="translate(12.64,159.30) scale(0.7457,1)" font-size="14.00" fill="#141414" stroke="#141414" stroke-width="0.3">1500</text>
<text id="t_ly1000" transform="translate(12.62,197.39) scale(0.7373,1)" font-size="14.00" fill="#141414" stroke="#141414" stroke-width="0.3">1000</text>
<text id="t_ly500" transform="translate(17.66,234.52) scale(0.7148,1)" font-size="14.00" fill="#141414" stroke="#141414" stroke-width="0.3">500</text>
<text id="t_ry4000" transform="translate(363.93,10.21) scale(0.7323,1)" font-size="14.00" fill="#141414" stroke="#141414" stroke-width="0.3">4000</text>
<text id="t_ry3000" transform="translate(363.82,66.28) scale(0.7470,1)" font-size="14.00" fill="#141414" stroke="#141414" stroke-width="0.3">3000</text>
<text id="t_ry2000" transform="translate(363.97,122.91) scale(0.7413,1)" font-size="14.00" fill="#141414" stroke="#141414" stroke-width="0.3">2000</text>
<text id="t_ry1000" transform="translate(364.13,179.74) scale(0.7280,1)" font-size="14.00" fill="#141414" stroke="#141414" stroke-width="0.3">1000</text>
<text id="t_ry0" transform="translate(380.11,236.44) scale(0.5741,1)" font-size="14.00" fill="#141414" stroke="#141414" stroke-width="0.3">0</text>
<text id="t_lx0" transform="translate(34.87,248.02) scale(0.7014,1)" font-size="14.00" fill="#141414" stroke="#141414" stroke-width="0.3">0</text>
<text id="t_lx5" transform="translate(94.24,247.82) scale(0.7060,1)" font-size="14.00" fill="#141414" stroke="#141414" stroke-width="0.3">5</text>
<text id="t_lx10" transform="translate(150.95,247.68) scale(0.6974,1)" font-size="14.00" fill="#141414" stroke="#141414" stroke-width="0.3">10</text>
<text id="t_lx15" transform="translate(210.32,248.02) scale(0.7058,1)" font-size="14.00" fill="#141414" stroke="#141414" stroke-width="0.3">15</text>
<text id="t_lx20" transform="translate(269.23,248.21) scale(0.6729,1)" font-size="14.00" fill="#141414" stroke="#141414" stroke-width="0.3">20</text>
<text id="t_lx24" transform="translate(316.70,248.07) scale(0.6447,1)" font-size="14.00" fill="#141414" stroke="#141414" stroke-width="0.3">24</text>
<text id="t_rx0" transform="translate(386.35,249.08) scale(0.6999,1)" font-size="14.00" fill="#141414" stroke="#141414" stroke-width="0.3">0</text>
<text id="t_rx5" transform="translate(445.55,249.07) scale(0.7049,1)" font-size="14.00" fill="#141414" stroke="#141414" stroke-width="0.3">5</text>
<text id="t_rx10" transform="translate(501.89,249.11) scale(0.6848,1)" font-size="14.00" fill="#141414" stroke="#141414" stroke-width="0.3">10</text>
<text id="t_rx15" transform="translate(561.19,248.61) scale(0.7315,1)" font-size="14.00" fill="#141414" stroke="#141414" stroke-width="0.3">15</text>
<text id="t_rx20" transform="translate(620.18,249.05) scale(0.7301,1)" font-size="14.00" fill="#141414" stroke="#141414" stroke-width="0.3">20</text>
<text id="t_rx24" transform="translate(667.54,249.14) scale(0.6886,1)" font-size="14.00" fill="#141414" stroke="#141414" stroke-width="0.3">24</text>
<text id="t_timeL" transform="translate(155.60,262.90) scale(0.7135,1)" font-size="14.80" fill="#141414" stroke="#141414" stroke-width="0.3">Time (hour)</text>
<text id="t_a" transform="translate(176.77,279.85) scale(0.7246,1)" font-size="14.00" fill="#141414" stroke="#141414" stroke-width="0.3">(a)</text>
<text id="t_timeR" transform="translate(514.94,261.70) scale(0.7067,1)" font-size="14.80" fill="#141414" stroke="#141414" stroke-width="0.3">Time (hour)</text>
<text id="t_b" transform="translate(535.58,278.81) scale(0.7076,1)" font-size="14.00" fill="#141414" stroke="#141414" stroke-width="0.3">(b)</text>
<text id="t_lc1" transform="translate(141.38,45.36) scale(0.7210,1)" font-size="14.00" fill="#141414" stroke="#141414" stroke-width="0.3">Case 1</text>
<text id="t_lc2" transform="translate(201.07,45.17) scale(0.7512,1)" font-size="14.00" fill="#141414" stroke="#141414" stroke-width="0.3">Case 2</text>
<text id="t_lc3" transform="translate(261.67,45.46) scale(0.7509,1)" font-size="14.00" fill="#141414" stroke="#141414" stroke-width="0.3">Case 3</text>
<text id="t_rc1" transform="translate(507.60,45.87) scale(0.7393,1)" font-size="14.00" fill="#141414" stroke="#141414" stroke-width="0.3">Case 1</text>
<text id="t_rc2" transform="translate(565.42,46.17) scale(0.7581,1)" font-size="14.00" fill="#141414" stroke="#141414" stroke-width="0.3">Case 2</text>
<text id="t_rc3" transform="translate(623.56,45.93) scale(0.7603,1)" font-size="14.00" fill="#141414" stroke="#141414" stroke-width="0.3">Case 3</text>
<text transform="translate(7.33,186.99) rotate(-90) scale(1,0.7408)" font-size="14.54" fill="#141414" stroke="#141414" stroke-width="0.3">Energy demands (kWh)</text>
<text transform="translate(359.15,188.39) rotate(-90) scale(1,0.7357)" font-size="14.49" fill="#141414" stroke="#141414" stroke-width="0.3">Energy demands (kWh)</text>
</svg></body></html>
